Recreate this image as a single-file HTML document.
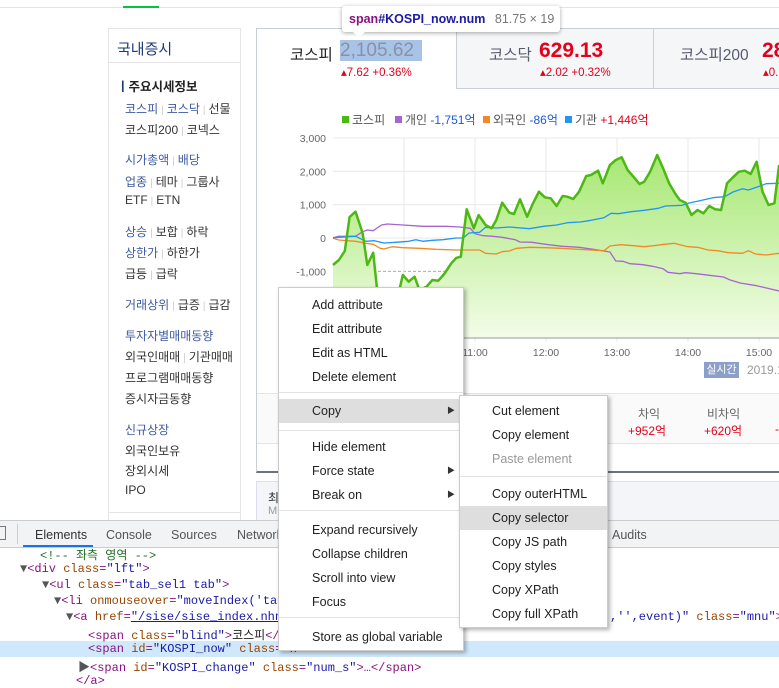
<!DOCTYPE html>
<html><head><meta charset="utf-8">
<style>
*{margin:0;padding:0;box-sizing:border-box}
body{width:779px;height:683px;overflow:hidden;position:relative;background:#fff;font-family:"Liberation Sans","Noto Sans CJK KR",sans-serif;font-size:12px;color:#333}
.a{position:absolute;white-space:nowrap}
.nav div{position:absolute;left:125px;font-size:12px;color:#333;white-space:nowrap}
.nav .b,.b{color:#3d5aa0}
.sep{color:#ccc;margin:0 3px;font-size:10px}
.menu{position:absolute;background:#fff;border:1px solid #ccc;box-shadow:2px 2px 4px rgba(0,0,0,.3);font-size:12.5px;color:#222}
.menu .it{position:absolute;left:0;right:0;height:24px;line-height:24px;white-space:nowrap}
.menu .hl{background:#dedede}
.menu .sp{position:absolute;left:0;right:0;height:1px;background:#e3e3e3}
.arr{position:absolute;right:8px;font-size:8px;color:#333}
.code{position:absolute;font-family:"Liberation Mono","Noto Sans CJK KR",monospace;font-size:12px;white-space:nowrap;color:#881280}
.at{color:#994500}.av{color:#1a1aa6}
</style></head><body>
<div class="a" style="left:0;top:7px;width:779px;height:1px;background:#e5e5e5"></div>
<div class="a" style="left:123px;top:6px;width:36px;height:2px;background:#00c73c"></div>

<div class="a" style="left:108px;top:28px;width:133px;height:500px;border:1px solid #e5e5e5;border-bottom:none"></div>
<div class="nav">
<div style="top:38px;font-size:15px;color:#1e3a7a;left:117px">국내증시</div>
<div style="top:62px;left:109px;width:131px;height:1px;background:#e5e5e5"></div>
<div style="top:76px;left:117px;font-weight:bold;color:#222;font-size:12.5px"><span style="color:#1e3a7a">ㅣ</span>주요시세정보</div>
<div style="top:100px"><span class="b">코스피</span><span class="sep">|</span><span class="b">코스닥</span><span class="sep">|</span>선물</div>
<div style="top:121px">코스피200<span class="sep">|</span>코넥스</div>
<div style="top:151px"><span class="b">시가총액</span><span class="sep">|</span><span class="b">배당</span></div>
<div style="top:173px"><span class="b">업종</span><span class="sep">|</span>테마<span class="sep">|</span>그룹사</div>
<div style="top:193px">ETF<span class="sep">|</span>ETN</div>
<div style="top:223px"><span class="b">상승</span><span class="sep">|</span>보합<span class="sep">|</span>하락</div>
<div style="top:244px"><span class="b">상한가</span><span class="sep">|</span>하한가</div>
<div style="top:265px">급등<span class="sep">|</span>급락</div>
<div style="top:296px"><span class="b">거래상위</span><span class="sep">|</span>급증<span class="sep">|</span>급감</div>
<div style="top:327px;color:#3d5aa0">투자자별매매동향</div>
<div style="top:348px">외국인매매<span class="sep">|</span>기관매매</div>
<div style="top:369px">프로그램매매동향</div>
<div style="top:390px">증시자금동향</div>
<div style="top:421px;color:#3d5aa0">신규상장</div>
<div style="top:442px">외국인보유</div>
<div style="top:462px">장외시세</div>
<div style="top:483px">IPO</div>
<div style="top:512px;left:109px;width:131px;height:1px;background:#e5e5e5"></div>
</div>

<!-- main box -->
<div class="a" style="left:256px;top:28px;width:530px;height:445px;border:1px solid #c9cdd4;border-bottom:2px solid #6b7280"></div>
<div class="a" style="left:456px;top:29px;width:197px;height:60px;background:#f5f6f8;border-left:1px solid #c9cdd4;border-bottom:1px solid #c9cdd4"></div>
<div class="a" style="left:653px;top:29px;width:130px;height:60px;background:#f5f6f8;border-left:1px solid #c9cdd4;border-bottom:1px solid #c9cdd4"></div>
<div class="a" style="left:290px;top:43px;font-size:15.5px;color:#222">코스피</div>
<div class="a" style="left:340px;top:40px;width:82px;height:21px;background:#a7c4e6;font-size:19px;color:#8b8fa8;line-height:21px">2,105.62</div>
<div class="a" style="left:341px;top:65px;font-size:11.5px;color:#e4001a">▴7.62 +0.36%</div>
<div class="a" style="left:489px;top:43px;font-size:15.5px;color:#555a6e">코스닥</div>
<div class="a" style="left:539px;top:39px;font-size:21px;font-weight:bold;color:#e4001a">629.13</div>
<div class="a" style="left:540px;top:65px;font-size:11.5px;color:#e4001a">▴2.02 +0.32%</div>
<div class="a" style="left:680px;top:43px;font-size:15.5px;color:#555a6e">코스피200</div>
<div class="a" style="left:762px;top:39px;font-size:21px;font-weight:bold;color:#e4001a">28</div>
<div class="a" style="left:763px;top:65px;font-size:11.5px;color:#e4001a">▴0.</div>

<svg class="a" id="chart" style="left:0;top:0" width="779" height="683"></svg>

<div class="a" style="left:704px;top:362px;width:35px;height:16px;background:#8c9fc9;color:#fff;font-size:11px;text-align:center;line-height:16px">실시간</div>
<div class="a" style="left:747px;top:363px;font-size:12px;color:#999">2019.1</div>

<div class="a" style="left:257px;top:393px;width:530px;height:1px;background:#e5e5e5"></div>
<div class="a" style="left:257px;top:394px;width:530px;height:50px;background:#fafafa;border-bottom:1px solid #e5e5e5"></div>
<div class="a" style="left:638px;top:405px;color:#666">차익</div>
<div class="a" style="left:628px;top:422px;color:#e4001a">+952억</div>
<div class="a" style="left:707px;top:405px;color:#666">비차익</div>
<div class="a" style="left:704px;top:422px;color:#e4001a">+620억</div>
<div class="a" style="left:775px;top:422px;color:#e4001a">-</div>
<div class="a" style="left:256px;top:481px;width:530px;height:45px;background:#f3f5f9;border:1px solid #dde"></div>
<div class="a" style="left:268px;top:489px;font-size:12px;color:#333">최</div>
<div class="a" style="left:268px;top:505px;font-size:11px;color:#999">M</div>

<!-- tooltip -->
<div class="a" style="left:342px;top:6px;width:218px;height:26px;background:#fff;border-radius:3px;box-shadow:0 1px 4px rgba(0,0,0,.35);font-size:12.5px;line-height:26px;padding-left:7px"><b style="color:#881280;font-weight:bold">span</b><b style="color:#1a1aa6">#KOSPI_now.num</b> <span style="color:#777;margin-left:6px">81.75 × 19</span></div>
<div class="a" style="left:352px;top:31px;width:0;height:0;border-left:7px solid transparent;border-right:7px solid transparent;border-top:7px solid #fff"></div>

<!-- devtools -->
<div class="a" style="left:0;top:520px;width:779px;height:28px;background:#f1f3f4;border-top:1px solid #ccc;border-bottom:1px solid #ccc"></div>
<div class="a" style="left:-6px;top:526px;width:12px;height:14px;border:1px solid #777"></div>
<div class="a" style="left:17px;top:524px;width:1px;height:20px;background:#ccc"></div>
<div class="a" style="left:35px;top:528px;font-size:12.5px;color:#333">Elements</div>
<div class="a" style="left:23px;top:545px;width:70px;height:2px;background:#1a73e8"></div>
<div class="a" style="left:106px;top:528px;font-size:12.5px;color:#555">Console</div>
<div class="a" style="left:171px;top:528px;font-size:12.5px;color:#555">Sources</div>
<div class="a" style="left:237px;top:528px;font-size:12.5px;color:#555">Network</div>
<div class="a" style="left:612px;top:528px;font-size:12.5px;color:#555">Audits</div>

<div class="a" style="left:0;top:641px;width:779px;height:16px;background:#cfe8fc"></div>
<div class="code" style="left:40px;top:546px;color:#236e25">&lt;!-- 좌측 영역 --&gt;</div>
<div class="code" style="left:20px;top:562px"><span style="color:#555">▼</span>&lt;div <span class="at">class</span>=<span class="av">"lft"</span>&gt;</div>
<div class="code" style="left:42px;top:578px"><span style="color:#555">▼</span>&lt;ul <span class="at">class</span>=<span class="av">"tab_sel1 tab"</span>&gt;</div>
<div class="code" style="left:54px;top:594px"><span style="color:#555">▼</span>&lt;li <span class="at">onmouseover</span>=<span class="av">"moveIndex('tab_s</span></div>
<div class="code" style="left:66px;top:610px"><span style="color:#555">▼</span>&lt;a <span class="at">href</span>=<span class="av" style="text-decoration:underline">"/sise/sise_index.nhn?c</span></div>
<div class="code" style="left:610px;top:610px"><span class="av">,'',event)"</span> <span class="at">class</span>=<span class="av">"mnu"</span>&gt;</div>
<div class="code" style="left:88px;top:626px">&lt;span <span class="at">class</span>=<span class="av">"blind"</span>&gt;<span style="color:#222">코스피</span>&lt;/sp</div>
<div class="code" style="left:88px;top:642px">&lt;span <span class="at">id</span>=<span class="av">"KOSPI_now"</span> <span class="at">class</span>=<span class="av">"n</span></div>
<div class="code" style="left:78px;top:658px"><span style="color:#555">▶</span>&lt;span <span class="at">id</span>=<span class="av">"KOSPI_change"</span> <span class="at">class</span>=<span class="av">"num_s"</span>&gt;…&lt;/span&gt;</div>
<div class="code" style="left:76px;top:674px">&lt;/a&gt;</div>

<!-- context menu -->
<div class="menu" style="left:278px;top:287px;width:186px;height:364px">
<div class="it" style="top:5px;padding-left:33px">Add attribute</div>
<div class="it" style="top:29px;padding-left:33px">Edit attribute</div>
<div class="it" style="top:53px;padding-left:33px">Edit as HTML</div>
<div class="it" style="top:77px;padding-left:33px">Delete element</div>
<div class="sp" style="top:104px"></div>
<div class="it hl" style="top:111px;padding-left:33px">Copy<span class="arr">▶</span></div>
<div class="sp" style="top:142px"></div>
<div class="it" style="top:147px;padding-left:33px">Hide element</div>
<div class="it" style="top:171px;padding-left:33px">Force state<span class="arr">▶</span></div>
<div class="it" style="top:195px;padding-left:33px">Break on<span class="arr">▶</span></div>
<div class="sp" style="top:222px"></div>
<div class="it" style="top:230px;padding-left:33px">Expand recursively</div>
<div class="it" style="top:254px;padding-left:33px">Collapse children</div>
<div class="it" style="top:278px;padding-left:33px">Scroll into view</div>
<div class="it" style="top:302px;padding-left:33px">Focus</div>
<div class="sp" style="top:329px"></div>
<div class="it" style="top:337px;padding-left:33px">Store as global variable</div>
</div>
<div class="menu" style="left:459px;top:395px;width:149px;height:233px">
<div class="it" style="top:3px;padding-left:32px">Cut element</div>
<div class="it" style="top:27px;padding-left:32px">Copy element</div>
<div class="it" style="top:51px;padding-left:32px;color:#999">Paste element</div>
<div class="sp" style="top:80px"></div>
<div class="it" style="top:86px;padding-left:32px">Copy outerHTML</div>
<div class="it hl" style="top:110px;padding-left:32px">Copy selector</div>
<div class="it" style="top:134px;padding-left:32px">Copy JS path</div>
<div class="it" style="top:158px;padding-left:32px">Copy styles</div>
<div class="it" style="top:182px;padding-left:32px">Copy XPath</div>
<div class="it" style="top:206px;padding-left:32px">Copy full XPath</div>
</div>

<script>
// minutes after 09:00 and values
const kospiTimes=[0,5,10,14,19,25,29,34,37,44,52,59,64,69,73,79,84,89,94,100,104,108,113,119,123,129,134,138,143,149,153,158,164,169,174,179,184,189,194,198,203,208,214,218,224,228,234,239,244,249,255,259,263,268,274,279,284,289,293,298,303,308,313,318,323,328,333,338,343,348,353,358,363,368,373,377];
const kospiValues=[-810,-660,-390,630,790,150,-810,-440,-1460,-2000,-2200,-1110,-1310,-1160,-1560,-1460,-1260,-1280,-1080,-760,-600,-560,860,290,690,390,290,540,1060,760,720,1160,640,1040,1390,1220,1190,960,1260,1240,1170,1390,1860,1890,2020,1640,2190,2340,2420,2040,1790,1620,1690,1990,2490,2090,1640,1340,1140,1060,690,840,740,960,860,840,1640,1820,1990,2020,1920,2290,1390,990,1040,2190];
const indivTimes=[0,5,19,25,29,34,41,46,59,68,76,96,107,116,120,127,135,143,154,158,168,182,194,208,222,234,239,245,251,262,270,279,283,293,298,307,318,330,335,344,358,369,377];
const indivValues=[10,50,50,190,240,220,390,420,390,370,350,350,330,290,130,70,50,20,-50,-120,-130,-200,-250,-280,-350,-420,-690,-700,-770,-800,-850,-920,-1030,-1070,-1040,-1070,-1120,-1170,-1250,-1350,-1430,-1520,-1590];
const instTimes=[0,19,28,35,43,53,64,70,76,84,93,104,110,115,124,129,138,149,166,178,189,198,209,218,229,235,241,252,263,275,281,295,301,309,321,331,338,346,351,361,366,377];
const instValues=[10,50,-100,-80,-150,-130,-100,-50,-100,-70,-50,0,0,150,170,320,300,330,280,350,390,460,480,530,610,740,730,790,830,890,960,980,1050,1110,1210,1240,1380,1480,1440,1560,1630,1640];
const foreignTimes=[0,5,19,28,34,40,43,50,59,73,87,104,115,124,129,138,143,149,155,166,180,192,203,217,229,234,243,254,263,271,280,288,300,308,317,325,334,346,351,357,366,377];
const foreignValues=[-10,-60,-100,-160,-190,-310,-330,-260,-290,-310,-340,-360,-360,-360,-460,-480,-410,-390,-310,-280,-290,-310,-330,-360,-380,-240,-200,-230,-260,-230,-190,-160,-260,-280,-360,-380,-440,-460,-380,-480,-510,-460];
const yTicks=[3000,2000,1000,0,-1000];
const yTickLabels=["3,000","2,000","1,000","0","-1,000"];
const xTicks=[60,120,180,240,300,360];
const xTickLabels=["10:00","11:00","12:00","13:00","14:00","15:00"];
const legendNames=["코스피","개인","외국인","기관"];
const legendValues=["","-1,751억","-86억","+1,446억"];

const NS="http://www.w3.org/2000/svg";
const svg=document.getElementById('chart');
const X0=333,PXM=71/60,Y0=238,PXV=100/3000,YB=338,XR=790;
const xs=m=>X0+m*PXM, ys=v=>Y0-v*PXV;
function mk(t,a){const e=document.createElementNS(NS,t);for(const k in a)e.setAttribute(k,a[k]);svg.appendChild(e);return e;}
const defs=mk('defs',{});
defs.innerHTML='<linearGradient id="gf" x1="0" y1="0" x2="0" y2="1"><stop offset="0" stop-color="#a6e872"/><stop offset="1" stop-color="#f3fce9"/></linearGradient><clipPath id="cp"><rect x="256" y="100" width="523" height="300"/></clipPath>';
const g=mk('g',{'clip-path':'url(#cp)'});
function add(t,a,p){const e=document.createElementNS(NS,t);for(const k in a)e.setAttribute(k,a[k]);(p||g).appendChild(e);return e;}
yTicks.forEach((v,i)=>{
  const l=add('line',{x1:X0,x2:XR,y1:ys(v),y2:ys(v),stroke:v===-1000?'#aaa':'#e8e8e8','stroke-dasharray':v===-1000?'3,2':''});
  
  
  const t=add('text',{x:326,y:ys(v)+4,'text-anchor':'end','font-size':'10.5',fill:'#666'},svg);
  t.textContent=yTickLabels[i];
  
  
});
add('line',{x1:X0,x2:XR,y1:ys(-2000),y2:ys(-2000),stroke:'#e8e8e8'});
xTicks.forEach((m,i)=>{
  const l=add('line',{x1:xs(m),x2:xs(m),y1:ys(3000),y2:YB+4,stroke:'#e8e8e8'});
  
  
  const t=add('text',{x:xs(m),y:356,'text-anchor':'middle','font-size':'10.5',fill:'#666'},svg);
  t.textContent=xTickLabels[i];
  
  
});
let d='M'+xs(kospiTimes[0])+','+YB;
kospiTimes.forEach((m,i)=>d+=' L'+xs(m).toFixed(1)+','+ys(kospiValues[i]).toFixed(1));
d+=' L'+xs(kospiTimes[kospiTimes.length-1])+','+YB+'Z';
const area=add('path',{d:d,fill:'url(#gf)'});


const ax=add('line',{x1:X0,x2:XR,y1:YB,y2:YB,stroke:'#999'});


function line(ts,vs,col,w,name){
  const p=ts.map((m,i)=>xs(m).toFixed(1)+','+ys(vs[i]).toFixed(1)).join(' ');
  const e=add('polyline',{points:p,fill:'none',stroke:col,'stroke-width':w,'stroke-linejoin':'round'});
  
  
}
line(indivTimes,indivValues,'#a566cf',1.3,'individual-line');
line(foreignTimes,foreignValues,'#f08a24',1.3,'foreign-line');
line(instTimes,instValues,'#2196f3',1.3,'institution-line');
line(kospiTimes,kospiValues,'#4db814',2.5,'kospi-line');
const lcol=['#4db814','#a566cf','#f08a24','#2196f3'];
const lx=[342,395,483,565];
legendNames.forEach((n,i)=>{
  const r=add('rect',{x:lx[i],y:116,width:7,height:7,fill:lcol[i]},svg);
  
  
  const t=add('text',{x:lx[i]+10,y:124,'font-size':'12',fill:'#555'},svg);
  
  
  t.textContent=n+' ';
  if(legendValues[i]){const s=document.createElementNS(NS,'tspan');s.setAttribute('fill',legendValues[i][0]==='+'?'#e4001a':'#1a5bd6');s.textContent=legendValues[i];t.appendChild(s);}
});
</script>
</body></html>
